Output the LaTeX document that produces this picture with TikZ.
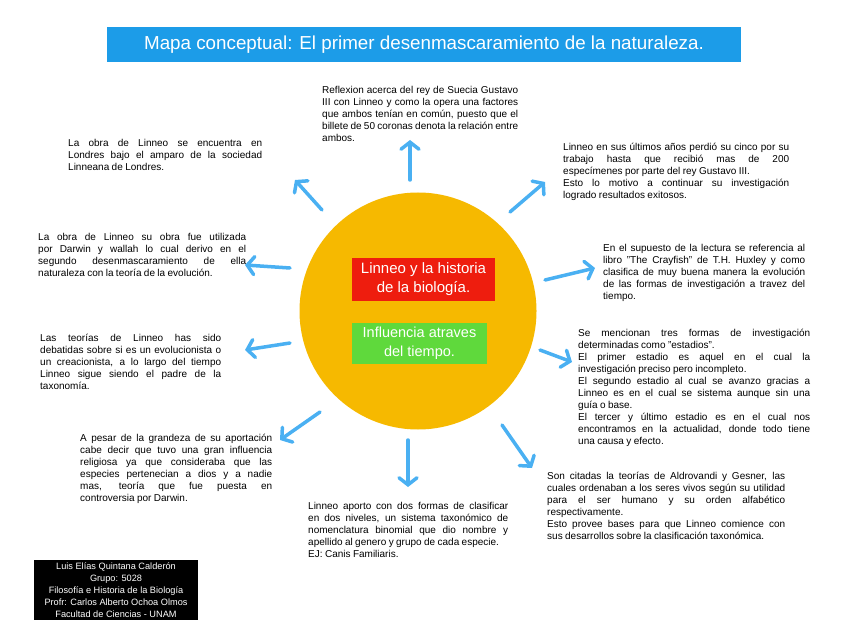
\documentclass[tikz,border=0pt]{standalone}
\usepackage{fontspec}
\setmainfont{Liberation Sans}
\usetikzlibrary{arrows.meta,positioning,calc}
\definecolor{titleblue}{HTML}{1C9CE8}
\definecolor{rayblue}{HTML}{4AB0F2}
\definecolor{hubgold}{HTML}{F6B900}
\definecolor{hubred}{HTML}{EE1D0E}
\definecolor{hubgreen}{HTML}{5FD93C}
\DeclareRobustCommand\notefont{\fontsize{10}{12}\selectfont
  \spaceskip=.24em plus .8em minus .1em\relax \hyphenpenalty=10000\relax}
\tikzset{
  note/.style   = {text width=#1, align=justify, inner sep=0pt, anchor=north west,
                   font=\notefont},
  label/.style  = {text=white, align=center, font=\fontsize{15}{19}\selectfont},
  ray/.style    = {draw=rayblue, line width=3.5pt, line cap=round,
                   -{Straight Barb[length=7pt,width=18pt,line cap=round]}},
}

\begin{document}
\begin{tikzpicture}[x=1pt, y=-1pt]
  \useasboundingbox (0,0) rectangle (848,636);
  % title
  \fill[titleblue] (107,27) rectangle (741,62);
  \node[text=white, font=\fontsize{18.8}{22}\selectfont] (title) at (424,45)
    {Mapa conceptual: El primer desenmascaramiento de la naturaleza.};
  % hub
  \node[circle, fill=hubgold, minimum size=237pt, inner sep=0pt] (hub) at (418,311) {};
  \fill[hubred] (352,258) rectangle (495,301);
  \node[label] (main) at (423.5,279.5) {Linneo y la historia\\de la biología.};
  \fill[hubgreen] (352,323) rectangle (487,364);
  \node[label, font=\fontsize{14.5}{19}\selectfont] (sub) at (419.5,343.5) {Influencia atraves\\del tiempo.};
  % rays
  \foreach \ax/\ay/\bx/\by in {-8/-131/-8/-171, -96/-101/-123/-131, 92/-99/127/-129,
      -128/-43/-173/-46, 127/-31/177/-43, -128/32/-173/39, 122/39/154/51,
      -98/101/-138/129, -10/129/-10/176, 84/114/114/157}
    \draw[ray] ($(hub)+(\ax,\ay)$) -- ($(hub)+(\bx,\by)$);
  % notes
  \node[note=196pt] (reflex) at (322,86)
    {Reflexion acerca del rey de Suecia Gustavo\linebreak III con Linneo y como la opera una factores\linebreak que ambos tenían en común, puesto que el\linebreak billete de 50 coronas denota la relación entre\linebreak ambos.};
  \node[note=194pt] (obra) at (68,139)
    {La obra de Linneo se encuentra en\linebreak Londres bajo el amparo de la sociedad\linebreak Linneana de Londres.};
  \node[note=226pt] (ultimos) at (563,143)
    {Linneo en sus últimos años perdió su cinco por su\linebreak trabajo hasta que recibió mas de 200\linebreak especímenes por parte del rey Gustavo III.\\Esto lo motivo a continuar su investigación\linebreak logrado resultados exitosos.};
  \node[note=208pt] (darwin) at (38,233)
    {La obra de Linneo su obra fue utilizada\linebreak por Darwin y wallah lo cual derivo en el\linebreak segundo desenmascaramiento de ella\linebreak naturaleza con la teoría de la evolución.};
  \node[note=202pt] (crayfish) at (603,244)
    {En el supuesto de la lectura se referencia al\linebreak libro "The Crayfish" de T.H. Huxley y como\linebreak clasifica de muy buena manera la evolución\linebreak de las formas de investigación a travez del\linebreak tiempo.};
  \node[note=181pt] (teorias) at (40,334)
    {Las teorías de Linneo has sido\linebreak debatidas sobre si es un evolucionista o\linebreak un creacionista, a lo largo del tiempo\linebreak Linneo sigue siendo el padre de la\linebreak taxonomía.};
  \node[note=232pt] (estadios) at (578,329)
    {Se mencionan tres formas de investigación\linebreak determinadas como "estadios".\\El primer estadio es aquel en el cual la\linebreak investigación preciso pero incompleto.\\El segundo estadio al cual se avanzo gracias a\linebreak Linneo es en el cual se sistema aunque sin una\linebreak guía o base.\\El tercer y último estadio es en el cual nos\linebreak encontramos en la actualidad, donde todo tiene\linebreak una causa y efecto.};
  \node[note=192pt] (pesar) at (80,434)
    {A pesar de la grandeza de su aportación\linebreak cabe decir que tuvo una gran influencia\linebreak religiosa ya que consideraba que las\linebreak especies pertenecian a dios y a nadie\linebreak mas, teoría que fue puesta en\linebreak controversia por Darwin.};
  \node[note=238pt] (aldro) at (547,472)
    {Son citadas la teorías de Aldrovandi y Gesner, las\linebreak cuales ordenaban a los seres vivos según su utilidad\linebreak para el ser humano y su orden alfabético\linebreak respectivamente.\\Esto provee bases para que Linneo comience con\linebreak sus desarrollos sobre la clasificación taxonómica.};
  \node[note=200pt] (clasif) at (308,502)
    {Linneo aporto con dos formas de clasificar\linebreak en dos niveles, un sistema taxonómico de\linebreak nomenclatura binomial que dio nombre y\linebreak apellido al genero y grupo de cada especie.\\EJ: Canis Familiaris.};
  % credits
  \node[fill=black, text=white, align=center, minimum width=164pt, minimum height=60pt,
        inner sep=0pt, font=\fontsize{9.2}{12}\selectfont] (credits) at (116,590)
    {Luis Elías Quintana Calderón\\Grupo: 5028\\Filosofía e Historia de la Biología\\Profr: Carlos Alberto Ochoa Olmos\\Facultad de Ciencias - UNAM};
\end{tikzpicture}
\end{document}
